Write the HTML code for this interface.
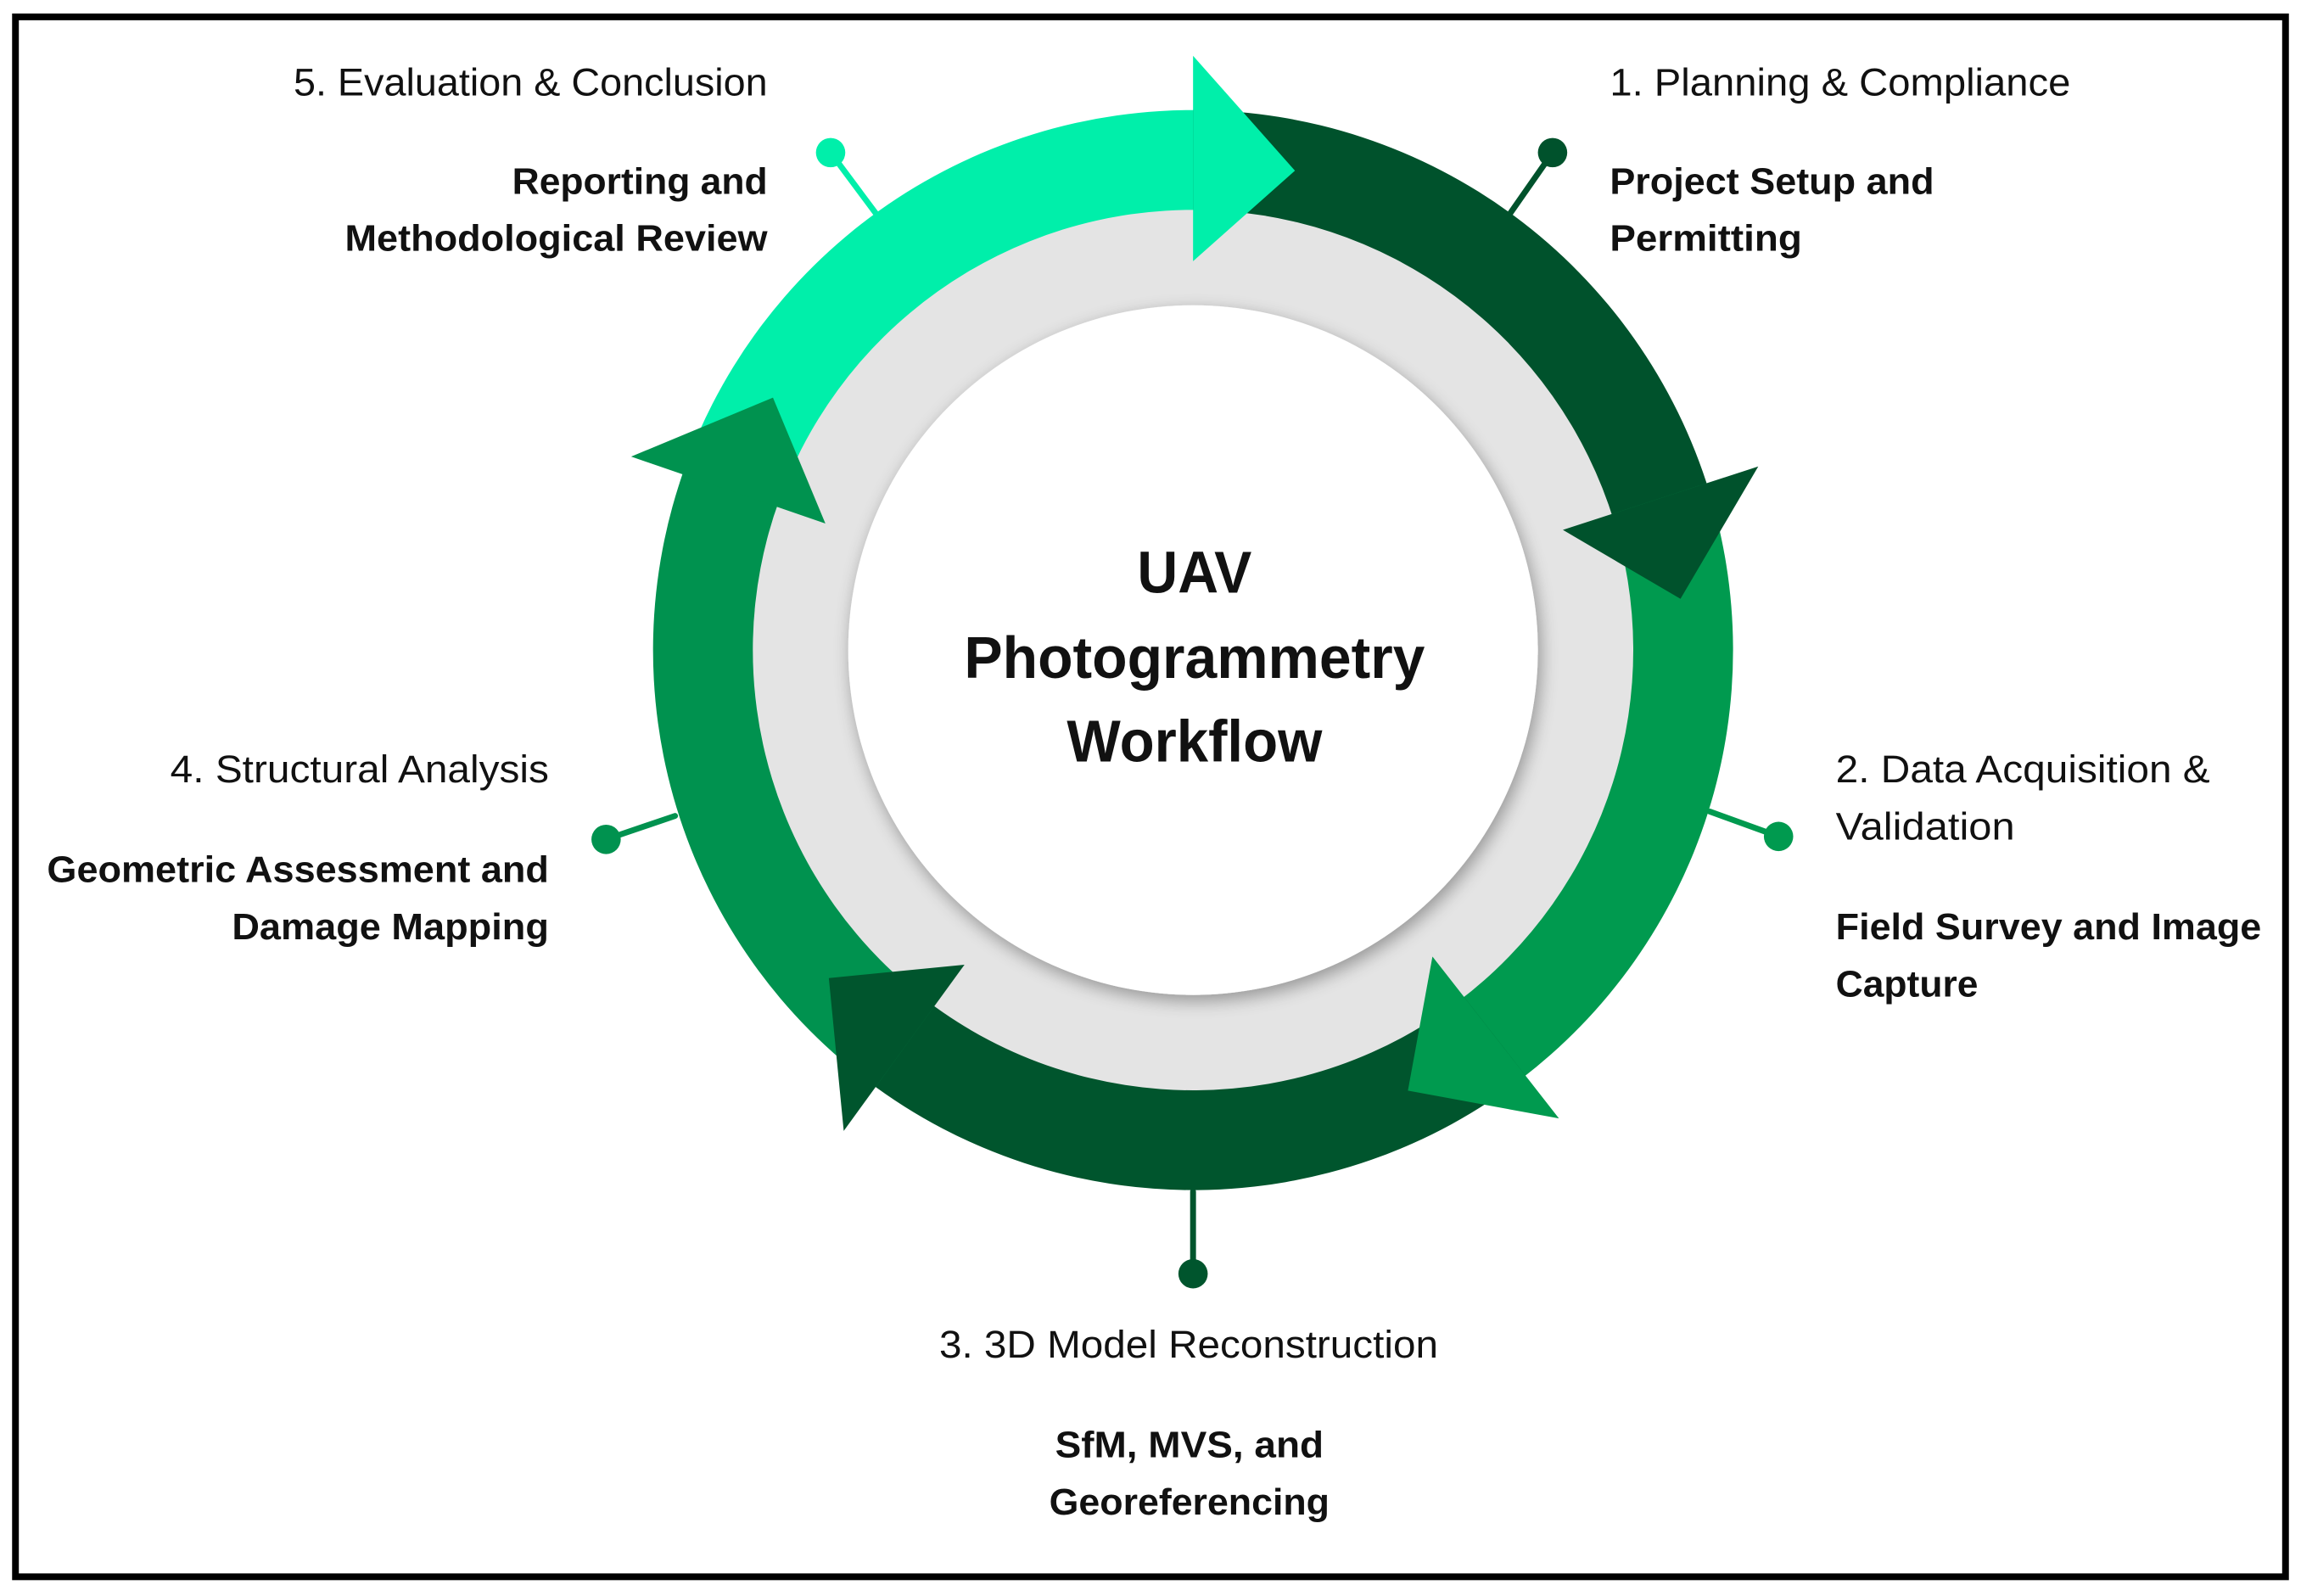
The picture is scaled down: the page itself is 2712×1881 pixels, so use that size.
<!DOCTYPE html>
<html><head><meta charset="utf-8"><style>
html,body{margin:0;padding:0;background:#fff}
svg{display:block}
text{font-family:"Liberation Sans",sans-serif;fill:#111}
.r{font-size:26px}
.b{font-size:25px;font-weight:bold}
.c{font-size:40px;font-weight:bold}
</style></head><body>
<svg id="s" width="2712" height="1881" viewBox="0 0 1568 1087.6" xmlns="http://www.w3.org/2000/svg">
<defs>
<filter id="sh" x="-20%" y="-20%" width="140%" height="140%"><feGaussianBlur in="SourceAlpha" stdDeviation="6"/><feOffset dx="2" dy="4"/><feComponentTransfer><feFuncA type="linear" slope="0.35"/></feComponentTransfer><feMerge><feMergeNode/><feMergeNode in="SourceGraphic"/></feMerge></filter>
</defs>
<rect x="10.5" y="11.5" width="1547" height="1063" fill="#fff" stroke="#000" stroke-width="4.6"/>
<circle cx="813" cy="443" r="301" fill="#e4e4e4" filter="url(#sh)"/>
<circle cx="813" cy="443" r="235" fill="#fff" filter="url(#sh)"/>
<g id="ring"></g>
<g stroke-width="4" stroke-linecap="round">
<line x1="566" y1="104" x2="598" y2="147" stroke="#00efaa"/><circle cx="566" cy="104" r="10" fill="#00efaa"/>
<line x1="1058" y1="104" x2="1028" y2="147" stroke="#00522c"/><circle cx="1058" cy="104" r="10" fill="#00522c"/>
<line x1="1212" y1="570" x2="1165" y2="553" stroke="#009a4f"/><circle cx="1212" cy="570" r="10" fill="#009a4f"/>
<line x1="813" y1="868" x2="813" y2="812" stroke="#00552d"/><circle cx="813" cy="868" r="10" fill="#00552d"/>
<line x1="413" y1="572" x2="460" y2="556" stroke="#00924f"/><circle cx="413" cy="572" r="10" fill="#00924f"/>
</g>
<text class="r" x="200" y="65" textLength="323" lengthAdjust="spacingAndGlyphs">5. Evaluation &amp; Conclusion</text>
<text class="b" x="349" y="132" textLength="174" lengthAdjust="spacingAndGlyphs">Reporting and</text>
<text class="b" x="235" y="171" textLength="288" lengthAdjust="spacingAndGlyphs">Methodological Review</text>
<text class="r" x="1097" y="65" textLength="314" lengthAdjust="spacingAndGlyphs">1. Planning &amp; Compliance</text>
<text class="b" x="1097" y="132" textLength="221" lengthAdjust="spacingAndGlyphs">Project Setup and</text>
<text class="b" x="1097" y="171" textLength="131" lengthAdjust="spacingAndGlyphs">Permitting</text>
<text class="r" x="1251" y="533" textLength="255" lengthAdjust="spacingAndGlyphs">2. Data Acquisition &amp;</text>
<text class="r" x="1251" y="572" textLength="122" lengthAdjust="spacingAndGlyphs">Validation</text>
<text class="b" x="1251" y="640" textLength="290" lengthAdjust="spacingAndGlyphs">Field Survey and Image</text>
<text class="b" x="1251" y="679" textLength="97" lengthAdjust="spacingAndGlyphs">Capture</text>
<text class="r" x="116" y="533" textLength="258" lengthAdjust="spacingAndGlyphs">4. Structural Analysis</text>
<text class="b" x="32" y="601" textLength="342" lengthAdjust="spacingAndGlyphs">Geometric Assessment and</text>
<text class="b" x="158" y="640" textLength="216" lengthAdjust="spacingAndGlyphs">Damage Mapping</text>
<text class="r" x="640" y="925" textLength="340" lengthAdjust="spacingAndGlyphs">3. 3D Model Reconstruction</text>
<text class="b" x="719" y="993" textLength="183" lengthAdjust="spacingAndGlyphs">SfM, MVS, and</text>
<text class="b" x="715" y="1032" textLength="191" lengthAdjust="spacingAndGlyphs">Georeferencing</text>
<text class="c" x="775" y="404" textLength="78" lengthAdjust="spacingAndGlyphs">UAV</text>
<text class="c" x="657" y="462" textLength="314" lengthAdjust="spacingAndGlyphs">Photogrammetry</text>
<text class="c" x="727" y="519" textLength="174" lengthAdjust="spacingAndGlyphs">Workflow</text>
</svg>
<script>
(function(){
var cx=813,cy=443,ri=300,ro=368,hi=265,ho=405,hl=12;
function P(r,a){a=a*Math.PI/180;return [(cx+r*Math.sin(a)).toFixed(2),(cy-r*Math.cos(a)).toFixed(2)];}
var segs=[[288,360,'#00efaa'],[0,72,'#00522c'],[72,142,'#009a4f'],[142,216,'#00552d'],[216,289,'#00924f']];
var bodies='',heads='';
segs.forEach(function(s){
 var a1=s[0],a2=s[1]+1,c=s[2];
 var p1=P(ro,a1),p2=P(ro,a2),p3=P(ri,a2),p4=P(ri,a1);
 bodies+='<path fill="'+c+'" d="M'+p1+' A'+ro+' '+ro+' 0 0 1 '+p2+' L'+p3+' A'+ri+' '+ri+' 0 0 0 '+p4+' Z"/>';
 var b=s[1],t=P((ri+ro)/2,b+hl),o=P(ho,b),i=P(hi,b);
 heads+='<path fill="'+c+'" d="M'+o+' L'+t+' L'+i+' Z"/>';
});
document.getElementById('ring').innerHTML=bodies+heads;
})();
</script>
</body></html>
